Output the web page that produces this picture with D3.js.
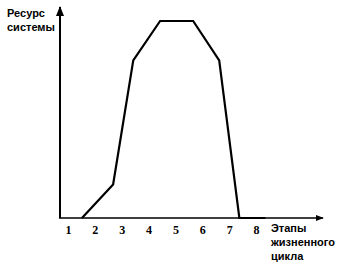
<!DOCTYPE html>
<html><head><meta charset="utf-8">
<script src="https://cdn.jsdelivr.net/npm/d3@7"></script>
<style>body{margin:0;background:#fff}svg{display:block}</style>
</head><body>
<svg id="c" width="342" height="265"></svg>
<script>
const stages = [1,2,3,4,5,6,7,8];
const curveX = [1.52, 2.68, 3.43, 4.43, 5.66, 6.63, 7.38, 8.35];
const curveY = [0, 17, 80, 100, 100, 80, 0, 0];
const yLabel = ["Ресурс", "системы"];
const xLabel = ["Этапы", "жизненного", "цикла"];

const svg = d3.select("#c");
const x = d3.scaleLinear().domain([1,8]).range([68,256]);
const y = d3.scaleLinear().domain([0,100]).range([218,21]);

const defs = svg.append("defs");
defs.append("marker").attr("id","arr").attr("viewBox","0 0 10 10").attr("refX",9).attr("refY",5)
  .attr("markerWidth",5).attr("markerHeight",5).attr("orient","auto")
  .append("path").attr("d","M0,1L10,5L0,9Z").attr("fill","#000");

// axes lines
svg.append("line").attr("x1",60).attr("y1",y(0)).attr("x2",60).attr("y2",7)
  .attr("stroke","#000").attr("stroke-width",2).attr("marker-end","url(#arr)");
svg.append("line").attr("x1",59).attr("y1",y(0)).attr("x2",323).attr("y2",y(0))
  .attr("stroke","#000").attr("stroke-width",1.6).attr("marker-end","url(#arr)");

// tick labels via axis
const ax = svg.append("g").attr("transform",`translate(0,${y(0)})`)
  .call(d3.axisBottom(x).tickValues(stages).tickSize(0).tickPadding(7).tickFormat(d3.format("d")));
ax.select(".domain").remove();
ax.selectAll("text").attr("font-family","Liberation Serif").attr("font-weight","bold")
  .attr("font-size",12).attr("fill","#000");

// curve
const pts = curveX.map((v,i)=>[v,curveY[i]]);
svg.append("path").datum(pts)
  .attr("d", d3.line().x(d=>x(d[0])).y(d=>y(d[1])))
  .attr("fill","none").attr("stroke","#000").attr("stroke-width",2.2).attr("stroke-linejoin","miter");

// labels
svg.append("g").selectAll("text").data(yLabel).join("text")
  .attr("x",7).attr("y",(d,i)=>17+i*14).text(d=>d)
  .attr("font-family","Liberation Sans").attr("font-weight","bold").attr("font-size",11).attr("fill","#000");
svg.append("g").selectAll("text").data(xLabel).join("text")
  .attr("x",271).attr("y",(d,i)=>232+i*14).text(d=>d)
  .attr("font-family","Liberation Sans").attr("font-weight","bold").attr("font-size",11).attr("fill","#000");
</script>
</body></html>
